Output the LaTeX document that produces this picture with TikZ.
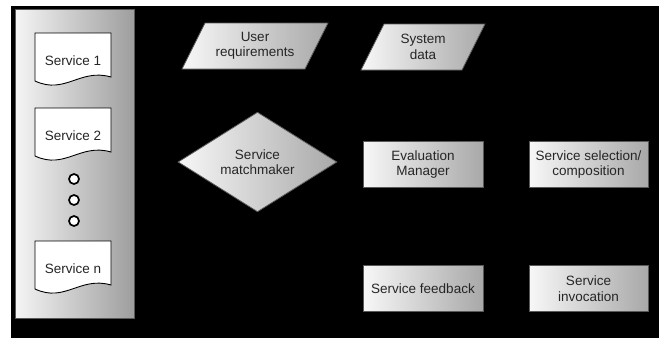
\documentclass[tikz,border=0pt]{standalone}
\usepackage{fontspec}
\setmainfont{Liberation Sans}
\usetikzlibrary{shapes.geometric}
\begin{document}
\begin{tikzpicture}[x=1pt,y=-1pt,
  every node/.style={font=\fontsize{13.5}{15.5}\selectfont, align=center, text=black!85},
  grad/.style={left color=black!3, right color=black!34, draw=black!65, line width=0.8pt},
  panelgrad/.style={left color=black!4, right color=black!38, draw=black!65, line width=0.8pt},
  procbox/.style={grad, rectangle, minimum width=120pt, minimum height=46pt, inner sep=0pt},
  decision/.style={grad, diamond, minimum width=159pt, minimum height=68pt, inner sep=0pt},
  docshape/.style={fill=white, draw=black, line width=0.9pt},
  dotcirc/.style={circle, fill=white, draw=black, line width=1.7pt, minimum size=10pt, inner sep=0pt}]
% canvas
\useasboundingbox (0,0) rectangle (659,338);
\fill[white] (0,0) rectangle (659,338);
\fill[black] (11,6) rectangle (659,338);
% service registry panel
\path[panelgrad] (15,9) rectangle (134,318);
% document shapes
\foreach \t/\lab/\nm in {33/Service 1/s1, 108/Service 2/s2, 241/Service n/sn}{
  \path[docshape] (35,\t) -- (111,\t) -- (111,{\t+44})
     .. controls (80,{\t+35}) and (65,{\t+62}) .. (35,{\t+48}) -- cycle;
  \node (\nm) at (73,{\t+27.5}) {\lab};
}
% ellipsis circles
\node[dotcirc] (c1) at (74,179) {};
\node[dotcirc] (c2) at (74,200) {};
\node[dotcirc] (c3) at (74,221) {};
% input parallelograms
\path[grad] (182,69) -- (205,23) -- (328,23) -- (305,69) -- cycle;
\node (ureq) at (255,46) {User\\requirements};
\path[grad] (361,70) -- (384,24) -- (485,24) -- (462,70) -- cycle;
\node (sysdata) at (423,47) {System\\data};
% matchmaker
\node[decision] (match) at (257.5,162) {Service\\matchmaker};
% process boxes
\node[procbox] (eval) at (423,164.5) {Evaluation\\Manager};
\node[procbox, minimum width=119pt] (select) at (588.5,164.5) {Service selection/\\composition};
\node[procbox] (feed) at (423,288.5) {Service feedback};
\node[procbox, minimum width=119pt] (invoke) at (588.5,288.5) {Service\\invocation};
\end{tikzpicture}
\end{document}
